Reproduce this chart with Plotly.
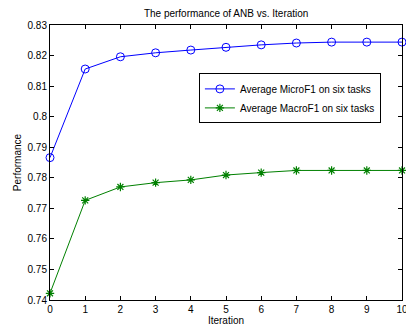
import plotly.graph_objects as go

iterations = [0, 1, 2, 3, 4, 5, 6, 7, 8, 9, 10]
micro_f1 = [0.7866, 0.8156, 0.8196, 0.8209, 0.8218, 0.8227, 0.8235, 0.8241, 0.8244, 0.8244, 0.8244]
macro_f1 = [0.7422, 0.7726, 0.7770, 0.7784, 0.7793, 0.7809, 0.7817, 0.7824, 0.7824, 0.7824, 0.7824]
y_ticks = [0.74, 0.75, 0.76, 0.77, 0.78, 0.79, 0.8, 0.81, 0.82, 0.83]
y_labels = ["0.74", "0.75", "0.76", "0.77", "0.78", "0.79", "0.8", "0.81", "0.82", "0.83"]

FONT = "Liberation Sans"

fig = go.Figure()
fig.add_trace(go.Scatter(
    x=iterations, y=micro_f1, mode="lines+markers",
    name="Average MicroF1 on six tasks",
    line=dict(color="#0000ff", width=1),
    marker=dict(symbol="circle-open", size=8, color="#0000ff", line=dict(width=1, color="#0000ff")),
    cliponaxis=False,
))
fig.add_trace(go.Scatter(
    x=iterations, y=macro_f1, mode="lines+markers",
    name="Average MacroF1 on six tasks",
    line=dict(color="#008000", width=1),
    marker=dict(symbol="asterisk-open", size=7, color="#008000", line=dict(width=1.2, color="#008000")),
    cliponaxis=False,
))

fig.update_layout(
    width=406, height=331,
    margin=dict(l=50, r=4, t=25, b=31, autoexpand=False),
    paper_bgcolor="white", plot_bgcolor="white",
    font=dict(family=FONT, size=10, color="black"),
    title=dict(text="The performance of ANB vs. Iteration", x=0.557, xanchor="center",
               y=0.958, yanchor="middle", font=dict(size=10, family=FONT)),
    showlegend=True,
    legend=dict(x=0.423, y=0.824, xanchor="left", yanchor="top",
                bgcolor="white", bordercolor="black", borderwidth=1,
                font=dict(size=10, family=FONT), tracegroupgap=0, itemwidth=30),
    xaxis=dict(range=[0, 10], tickmode="array", tickvals=iterations,
               ticks="inside", ticklen=4, tickcolor="black",
               showline=True, linecolor="black", linewidth=1, mirror="ticks",
               showgrid=False, zeroline=False, automargin=False,
               ticklabeloverflow="allow",
               tickfont=dict(size=10, family=FONT),
               title=dict(text="Iteration", font=dict(size=10, family=FONT), standoff=2)),
    yaxis=dict(range=[0.74, 0.83], tickmode="array", tickvals=y_ticks, ticktext=y_labels,
               ticks="inside", ticklen=4, tickcolor="black",
               showline=True, linecolor="black", linewidth=1, mirror="ticks",
               showgrid=False, zeroline=False, automargin=False,
               tickfont=dict(size=10, family=FONT),
               title=dict(text="Performance", font=dict(size=10, family=FONT), standoff=4)),
)

fig.write_html("out.html", config={"displayModeBar": False},
               post_script="document.body.style.margin='0';document.body.style.overflow='hidden';")
